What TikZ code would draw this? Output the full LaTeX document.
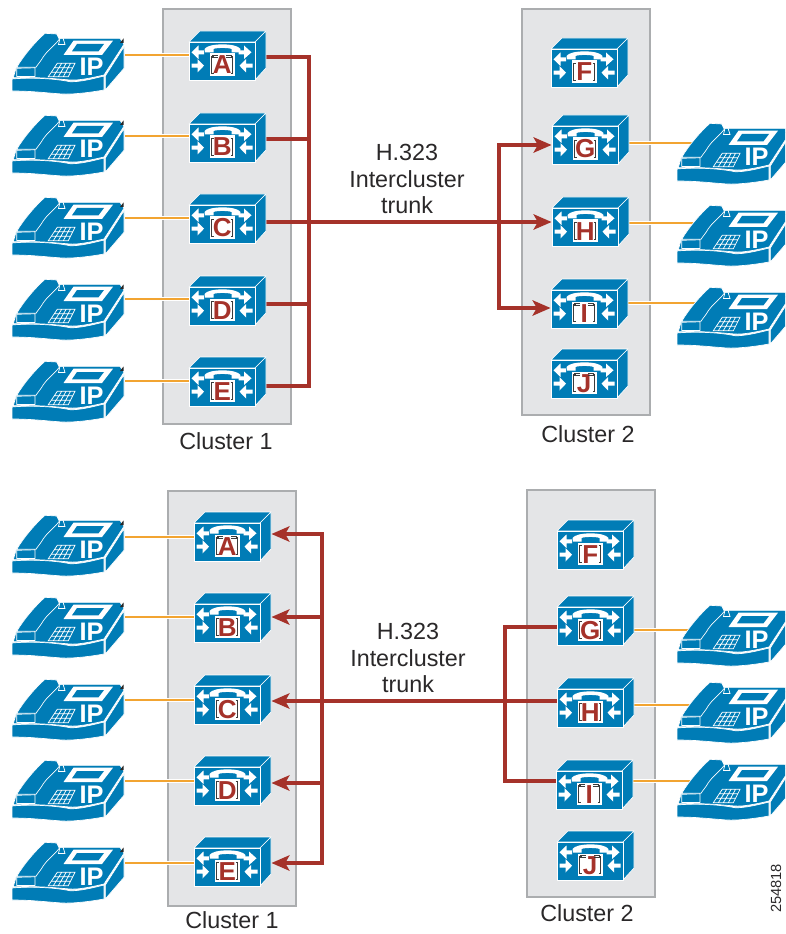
\documentclass[tikz,border=0pt]{standalone}
\usepackage{fontspec}
\setmainfont{Liberation Sans}
\usepackage{tikz}
\usetikzlibrary{arrows.meta,backgrounds,calc}
\definecolor{azulicon}{HTML}{007CB6}
\definecolor{rojotrunk}{HTML}{A5322A}
\definecolor{naranjaline}{HTML}{F2A431}
\definecolor{grisbox}{HTML}{E4E5E7}
\definecolor{grisedge}{HTML}{ABADAF}
\definecolor{grismark}{HTML}{3C3C3C}
\definecolor{textdark}{HTML}{2A2829}
\tikzset{
  iconface/.style={fill=azulicon,draw=white,line width=.5pt,line join=round},
  iconwhite/.style={fill=white,draw=none},
  iconline/.style={draw=white,line width=.55pt},
  panelmark/.style={draw=grismark,line width=.45pt},
  mgrnode/.style={draw=none,inner sep=0pt,minimum width=58pt,minimum height=28pt},
  phonenode/.style={draw=none,inner sep=0pt,minimum width=84.75pt,minimum height=40pt},
  mgrletter/.style={anchor=base,inner sep=0pt,text=rojotrunk,font=\fontsize{19.5}{20}\selectfont\bfseries},
  iplabel/.style={anchor=base,inner sep=0pt,text=white,font=\fontsize{19}{20}\selectfont\bfseries},
  clusterbox/.style={draw=grisedge,fill=grisbox,line width=.8pt,inner sep=0pt},
  clusterlabel/.style={anchor=base,inner sep=0pt,text=textdark,font=\fontsize{17.5}{20}\selectfont},
  trunklabel/.style={align=center,inner sep=0pt,text=textdark,font=\fontsize{17.5}{19.8}\selectfont},
  phoneline/.style={draw=naranjaline,line width=2pt,preaction={draw=white,line width=3pt}},
  trunk/.style={draw=rojotrunk,line width=2.5pt,line join=miter,preaction={draw=white,line width=3.6pt}},
  trunktip/.style={draw=rojotrunk,line width=2.5pt,-{Stealth[length=13.5pt,width=11.5pt,inset=3.2pt]}}
}
% name, left of front, top of front, wire height, letter
\newcommand{\callmgr}[5]{
  \node[mgrnode] (#1) at ({#2+38.5},#4) {};
  \begin{scope}[shift={(#2,#3)}]
    \filldraw[iconface] (0,0) -- (11,-11) -- (77,-11) -- (66,0) -- cycle;
    \filldraw[iconface] (66,0) -- (77,-11) -- (77,26) -- (66,38) -- cycle;
    \filldraw[iconface] (0,0) rectangle (66,38);
    \fill[iconwhite] (2.5,10.3) -- (9.5,3.5) -- (9.5,8.3) -- (15,8.3) -- (15,12.3) -- (9.5,12.3) -- (9.5,17) -- cycle;
    \fill[iconwhite] (15,23.7) -- (8.5,17) -- (8.5,21.7) -- (2.5,21.7) -- (2.5,25.7) -- (8.5,25.7) -- (8.5,30.5) -- cycle;
    \fill[iconwhite] (62.5,10.3) -- (55,3.5) -- (55,8.3) -- (49.5,8.3) -- (49.5,12.3) -- (55,12.3) -- (55,17) -- cycle;
    \fill[iconwhite] (50.5,23.7) -- (57,17) -- (57,21.7) -- (63.5,21.7) -- (63.5,25.7) -- (57,25.7) -- (57,30.5) -- cycle;
    \fill[iconwhite] (16,10.5) -- (15.5,7) .. controls (19,.8) and (48,.8) .. (51.5,7) -- (51,10.5) -- (42.5,10.5) -- (42.5,7) .. controls (40,5.6) and (27,5.6) .. (24.5,7) -- (24.5,10.5) -- cycle;
    \fill[iconwhite] (20.5,11.5) rectangle (46,34);
    \draw[panelmark] (24.5,14) -- (22.5,14) -- (22.5,31.5) -- (24.5,31.5);
    \draw[panelmark] (41.5,14) -- (43.5,14) -- (43.5,31.5) -- (41.5,31.5);
    \node[mgrletter] (#1-l) at (33.2,32) {#5};
  \end{scope}
}
% extra stripes of some panels
\newcommand{\panelstripes}[2]{
  \begin{scope}[shift={(#1,#2)}]
    \draw[panelmark] (23,13.5) -- (29,13.5) (23,15.5) -- (29,15.5) (37,13.5) -- (43,13.5) (37,15.5) -- (43,15.5);
  \end{scope}
}
% name, left, top, wire height
\newcommand{\ipphone}[4]{
  \node[phonenode] (#1) at ({#2+56.5},#4) {};
  \begin{scope}[shift={(#2,#3)}]
    \filldraw[iconface] (93.3,43) -- (112,13.7) -- (112,35.3) -- (93.3,57) -- cycle;
    \filldraw[iconface] (1.3,44.7) -- (4,35.3) -- (46.3,5.3) -- (108,5.3) -- (112,11.3) -- (92,42) .. controls (75,46) and (65,47.5) .. (58,47) .. controls (45,46) and (30,44) .. (1.3,44.7) -- cycle;
    \filldraw[iconface] (0,46) .. controls (15,44.5) and (40,45) .. (58,48.7) .. controls (68,49) and (80,46) .. (92,43) -- (92,57) .. controls (75,60) and (60,61.5) .. (50,61) .. controls (35,60) and (20,58) .. (0,58) -- cycle;
    \filldraw[iconface] (4.7,34.3) .. controls (12,22) and (24,8) .. (33,.3) -- (44.7,1) -- (47.3,6.3) .. controls (42,13) and (35,18) .. (31.3,23.7) .. controls (29,28) and (26,31) .. (24,34.3) -- cycle;
    \filldraw[iconface] (4.7,35.3) -- (23,34.8) -- (23,43.5) -- (4.7,43.5) -- cycle;
    \draw[iconline] (48,5) -- (51,5) -- (53,11.5) -- (46.5,11.5) -- cycle;
    \fill[black!85] (111.5,5.5) -- (111.5,10) -- (108,10) -- cycle;
    \fill[iconwhite] (51.5,22) -- (61.5,7.7) -- (101,7.7) -- (90,22) -- cycle;
    \fill[azulicon] (60,18.3) -- (65,11) -- (92,11) -- (86.5,18.3) -- cycle;
    \draw[iconline] (36.3,43.7) -- (45.3,30.3) -- (63,30.3) -- (56.3,43.7) -- cycle
      (39.3,39.2) -- (58.5,39.2) (42.3,34.8) -- (60.8,34.8)
      (41.3,43.7) -- (49.7,30.3) (46.3,43.7) -- (54.1,30.3) (51.3,43.7) -- (58.5,30.3);
    \node[iplabel] (#1-ip) at (79.5,43) {IP};
  \end{scope}
}
\begin{document}
\begin{tikzpicture}[x=.75pt,y=-.75pt]
\useasboundingbox (0,0) rectangle (785,934);
\clip (0,0) rectangle (785,934);

% upper drawing
\callmgr{upA}{189}{42}{57}{A}
\callmgr{upB}{189}{124}{139}{B}
\callmgr{upC}{189}{205}{222}{C}
\callmgr{upD}{189}{287}{304}{D}
\callmgr{upE}{189}{368}{386}{E}
\callmgr{upF}{551}{49}{68}{F}
\callmgr{upG}{552}{126}{145}{G}
\callmgr{upH}{552}{208}{222}{H}
\callmgr{upI}{551}{290}{308}{I}
\callmgr{upJ}{551}{360}{379}{J}
\panelstripes{189}{42}
\panelstripes{551}{290}
\panelstripes{551}{360}

\ipphone{upphA}{12}{33}{55}
\ipphone{upphB}{12}{115}{136}
\ipphone{upphC}{12}{197}{218}
\ipphone{upphD}{12}{279}{299}
\ipphone{upphE}{12}{361}{381}
\ipphone{upphG}{677}{123}{143}
\ipphone{upphH}{677}{205}{223}
\ipphone{upphI}{677}{287}{303}

\node[clusterlabel] (upcl1) at (226,449) {Cluster 1};
\node[clusterlabel] (upcl2) at (588,442) {Cluster 2};
\node[trunklabel] (uptrunk) at (407,179) {H.323\\Intercluster\\trunk};

% lower drawing
\callmgr{loA}{194}{523}{534}{A}
\callmgr{loB}{194}{604}{617}{B}
\callmgr{loC}{194}{686}{701}{C}
\callmgr{loD}{194}{767}{783}{D}
\callmgr{loE}{194}{848}{863}{E}
\callmgr{loF}{557}{531}{550}{F}
\callmgr{loG}{557}{607}{627}{G}
\callmgr{loH}{557}{689}{701}{H}
\callmgr{loI}{556}{771}{781}{I}
\callmgr{loJ}{557}{842}{861}{J}
\panelstripes{194}{523}
\panelstripes{556}{771}
\panelstripes{557}{842}

\ipphone{lophA}{12}{515}{537}
\ipphone{lophB}{12}{597}{617}
\ipphone{lophC}{12}{679}{700}
\ipphone{lophD}{12}{760}{781}
\ipphone{lophE}{12}{842}{863}
\ipphone{lophG}{677}{605}{630}
\ipphone{lophH}{677}{682}{705}
\ipphone{lophI}{677}{759}{781}

\node[clusterlabel] (locl1) at (232,928) {Cluster 1};
\node[clusterlabel] (locl2) at (587,921) {Cluster 2};
\node[trunklabel] (lotrunk) at (408,658) {H.323\\Intercluster\\trunk};
\node[rotate=90,inner sep=0pt,text=textdark,font=\fontsize{11}{12}\selectfont] (figno) at (776,888.5) {254818};

\coordinate (upbusL) at (309,222);
\coordinate (upbusR) at (499,222);
\coordinate (lobusL) at (322,701);
\coordinate (lobusR) at (505,701);

% wires under the icons
\begin{scope}[on background layer]
\node[clusterbox,minimum width=96pt,minimum height=311.25pt] (upbox1) at (227,216.5) {};
\node[clusterbox,minimum width=96pt,minimum height=304.5pt] (upbox2) at (586,212) {};
\node[clusterbox,minimum width=96pt,minimum height=311.25pt] (lobox1) at (232,698.5) {};
\node[clusterbox,minimum width=96pt,minimum height=305.25pt] (lobox2) at (591,693.5) {};

\draw[phoneline] (upphA.east) -- (upphA.east -| upA.west);
\draw[phoneline] (upphB.east) -- (upphB.east -| upB.west);
\draw[phoneline] (upphC.east) -- (upphC.east -| upC.west);
\draw[phoneline] (upphD.east) -- (upphD.east -| upD.west);
\draw[phoneline] (upphE.east) -- (upphE.east -| upE.west);
\draw[phoneline] (upphG.west -| upG.east) -- ($(upphG.west)+(22,0)$);
\draw[phoneline] (upphH.west -| upH.east) -- ($(upphH.west)+(22,0)$);
\draw[phoneline] (upphI.west -| upI.east) -- ($(upphI.west)+(22,0)$);
\draw[phoneline] (lophA.east) -- (lophA.east -| loA.west);
\draw[phoneline] (lophB.east) -- (lophB.east -| loB.west);
\draw[phoneline] (lophC.east) -- (lophC.east -| loC.west);
\draw[phoneline] (lophD.east) -- (lophD.east -| loD.west);
\draw[phoneline] (lophE.east) -- (lophE.east -| loE.west);
\draw[phoneline] (lophG.west -| loG.east) -- ($(lophG.west)+(22,0)$);
\draw[phoneline] (lophH.west -| loH.east) -- ($(lophH.west)+(22,0)$);
\draw[phoneline] (lophI.west -| loI.east) -- ($(lophI.west)+(22,0)$);

\draw[trunk] (upA.east) -- (upbusL |- upA.east) -- (upbusL |- upE.east) -- (upE.east)
  (upB.east) -- (upbusL |- upB.east)
  (upD.east) -- (upbusL |- upD.east)
  (upC.east) -- ($(upH.west)+(-12,0)$)
  ($(upG.west)+(-12,0)$) -- (upbusR |- upG.west) -- (upbusR |- upI.west) -- ($(upI.west)+(-12,0)$);
\draw[trunktip] ($(upG.west)+(-22,0)$) -- (upG.west);
\draw[trunktip] ($(upH.west)+(-22,0)$) -- (upH.west);
\draw[trunktip] ($(upI.west)+(-22,0)$) -- (upI.west);

\draw[trunk] ($(loA.east)+(12,0)$) -- (lobusL |- loA.east) -- (lobusL |- loE.east) -- ($(loE.east)+(12,0)$)
  ($(loB.east)+(12,0)$) -- (lobusL |- loB.east)
  ($(loD.east)+(12,0)$) -- (lobusL |- loD.east)
  (loH.west) -- ($(loC.east)+(12,0)$)
  (loG.west) -- (lobusR |- loG.west) -- (lobusR |- loI.west) -- (loI.west);
\draw[trunktip] ($(loA.east)+(22,0)$) -- (loA.east);
\draw[trunktip] ($(loB.east)+(22,0)$) -- (loB.east);
\draw[trunktip] ($(loC.east)+(22,0)$) -- (loC.east);
\draw[trunktip] ($(loD.east)+(22,0)$) -- (loD.east);
\draw[trunktip] ($(loE.east)+(22,0)$) -- (loE.east);
\end{scope}
\end{tikzpicture}
\end{document}
